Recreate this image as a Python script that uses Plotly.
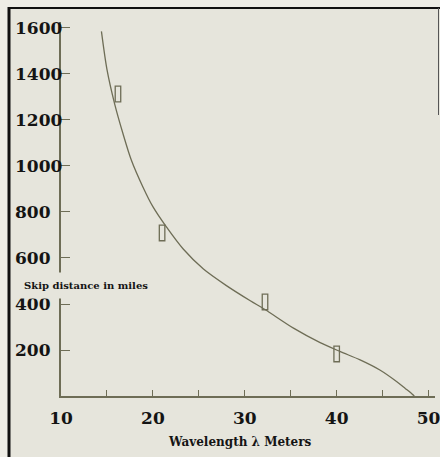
import plotly.graph_objects as go

# ---- data ----
curve_wavelength = [14.4, 15.0, 15.85, 16.75, 17.65, 18.9, 20.0, 21.45, 23.3, 25.5, 28.0, 30.6, 32.2,
                    35.3, 38.2, 40.4, 42.55, 44.7, 46.55, 47.46, 48.2, 48.45]
curve_skip = [1585, 1420, 1268, 1140, 1026, 910, 823, 736, 639, 552, 480, 414, 376,
              295, 232, 193, 157, 113, 62, 33, 9, 0]

obs_wavelength = [16.2, 21.0, 32.2, 40.0]
obs_skip = [1313, 709, 409, 183]

x_tickvals = [10, 15, 20, 25, 30, 35, 40, 45, 50]
x_ticktext = ["10", "", "20", "", "30", "", "40", "", "50"]
y_tickvals = [200, 400, 600, 800, 1000, 1200, 1400, 1600]
y_ticktext = ["200", "400", "600", "800", "1000", "1200", "1400", "1600"]

x_title = "Wavelength \u03bb Meters"
y_title = "Skip distance in miles"

# ---- style ----
INK = "#6e6d56"
TEXT = "#141414"
PAPER_IN = "#e6e5dc"
PAPER_OUT = "#eeede6"
FONT = "DejaVu Serif"

W, H = 440, 457
ML, MR, MT, MB = 61, 5, 22, 61
pw = W - ML - MR
ph = H - MT - MB


def px_to_paper_x(px):
    return (px - ML) / pw


def px_to_paper_y(py):
    return (H - MB - py) / ph


fig = go.Figure()

fig.add_trace(go.Scatter(
    x=curve_wavelength, y=curve_skip, mode="lines",
    line=dict(color=INK, width=1.3, shape="spline", smoothing=0.8),
    hoverinfo="skip", showlegend=False,
))

shapes = []
# background panel with border
shapes.append(dict(type="rect", xref="paper", yref="paper",
                   x0=px_to_paper_x(8), x1=px_to_paper_x(440),
                   y0=px_to_paper_y(460), y1=px_to_paper_y(8),
                   fillcolor=PAPER_IN, line=dict(width=0), layer="below"))
shapes.append(dict(type="line", xref="paper", yref="paper",
                   x0=px_to_paper_x(9), x1=px_to_paper_x(9),
                   y0=px_to_paper_y(460), y1=px_to_paper_y(7),
                   line=dict(color="#111111", width=3), layer="above"))
shapes.append(dict(type="line", xref="paper", yref="paper",
                   x0=px_to_paper_x(8), x1=px_to_paper_x(440),
                   y0=px_to_paper_y(8), y1=px_to_paper_y(8),
                   line=dict(color="#111111", width=2), layer="above"))
shapes.append(dict(type="line", xref="paper", yref="paper",
                   x0=px_to_paper_x(438.5), x1=px_to_paper_x(438.5),
                   y0=px_to_paper_y(115), y1=px_to_paper_y(8),
                   line=dict(color="#555555", width=1), layer="above"))

# open observation markers (small tall rectangles), from data
for xv, yv in zip(obs_wavelength, obs_skip):
    shapes.append(dict(type="rect", xref="x", yref="y",
                       x0=xv - 0.3, x1=xv + 0.3, y0=yv - 34, y1=yv + 34,
                       line=dict(color=INK, width=1.3), fillcolor="rgba(0,0,0,0)"))

annotations = []
for v, t in zip(y_tickvals, y_ticktext):
    annotations.append(dict(x=px_to_paper_x(13), xref="paper", xanchor="left",
                            y=v, yref="y", yanchor="middle", text=t, showarrow=False,
                            font=dict(family=FONT, size=17, color=TEXT, weight="bold")))
annotations.append(dict(x=px_to_paper_x(16), xref="paper", xanchor="left",
                        y=px_to_paper_y(285), yref="paper", yanchor="middle",
                        text=y_title, showarrow=False, bgcolor=PAPER_IN, borderpad=7,
                        font=dict(family=FONT, size=10, color=TEXT, weight="bold")))
annotations.append(dict(x=px_to_paper_x(240), xref="paper", xanchor="center",
                        y=px_to_paper_y(442), yref="paper", yanchor="middle",
                        text=x_title, showarrow=False,
                        font=dict(family=FONT, size=12, color=TEXT, weight="bold")))

fig.update_layout(
    width=W, height=H,
    margin=dict(l=ML, r=MR, t=MT, b=MB, pad=0, autoexpand=False),
    paper_bgcolor=PAPER_OUT, plot_bgcolor="rgba(0,0,0,0)",
    showlegend=False,
    shapes=shapes, annotations=annotations,
    xaxis=dict(range=[10, 50.7], tickvals=x_tickvals, ticktext=x_ticktext,
               ticks="inside", ticklen=6, tickcolor=INK, tickwidth=1.3,
               showline=True, linecolor=INK, linewidth=1.5, automargin=False,
               showgrid=False, zeroline=False, ticklabelstandoff=6,
               ticklabeloverflow="allow",
               tickfont=dict(family=FONT, size=17, color=TEXT, weight="bold")),
    yaxis=dict(range=[0, 1626], tickvals=y_tickvals, showticklabels=False,
               ticks="inside", ticklen=9, tickcolor=INK, tickwidth=1.3,
               showline=True, linecolor=INK, linewidth=1.5, automargin=False,
               showgrid=False, zeroline=False),
)

fig.write_html("out.html", config={"displayModeBar": False},
               post_script="document.body.style.margin='0';document.body.style.overflow='hidden';")
